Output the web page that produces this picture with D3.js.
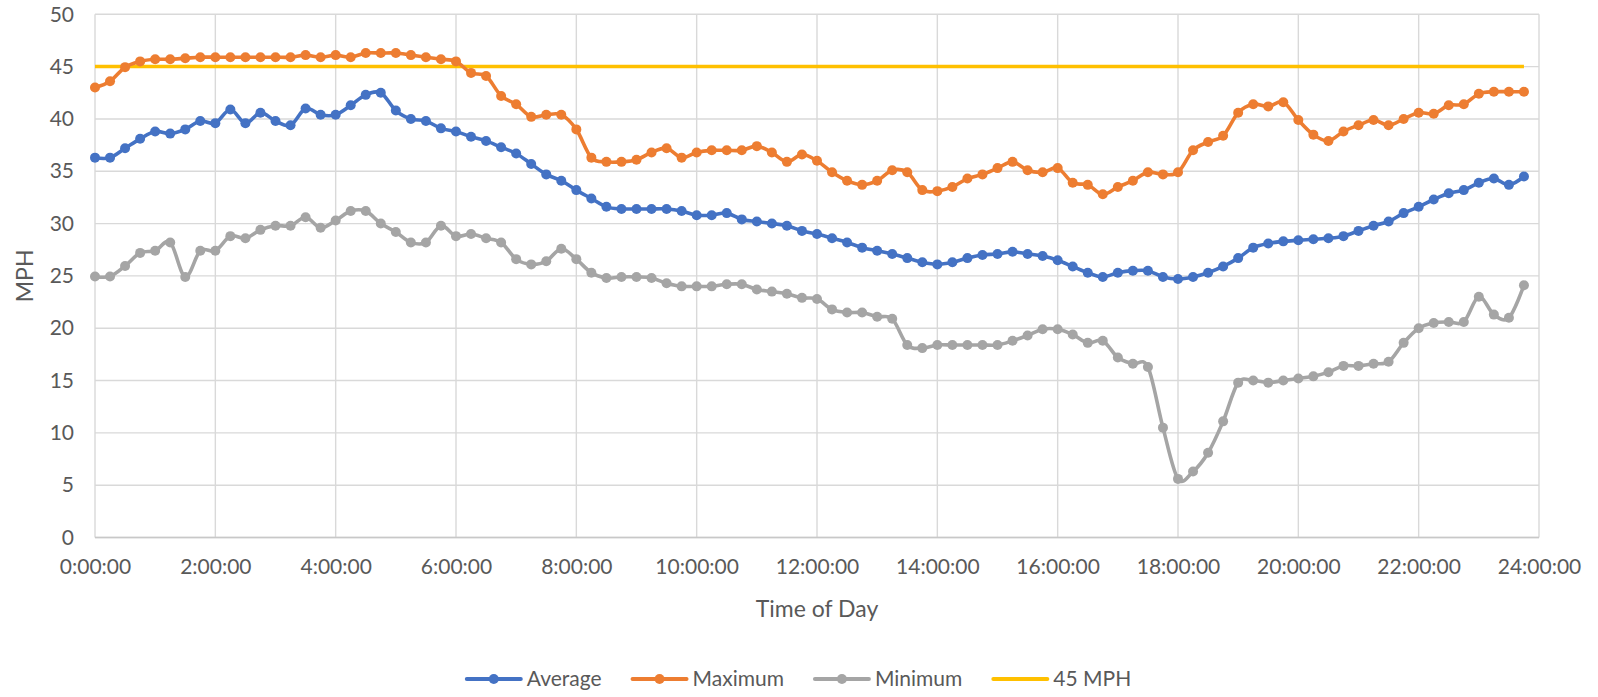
<!DOCTYPE html>
<html>
<head>
<meta charset="utf-8">
<script src="https://cdn.jsdelivr.net/npm/d3@7"></script>
<style>
  html, body { margin: 0; padding: 0; background: #ffffff; }
  svg { display: block; font-family: Lato, "Open Sans", sans-serif; }
  .tick text { fill: #595959; }
</style>
</head>
<body>
<svg id="chart" width="1598" height="697"></svg>
<script>
// Speeds by time of day, one reading every 15 minutes (96 slots, 0:00 to 23:45)
const slotMinutes = d3.range(96).map(i => i * 15);

const averageMph = [
  36.3, 36.3, 37.2, 38.1, 38.8, 38.6, 39.0, 39.8,
  39.6, 40.9, 39.6, 40.6, 39.8, 39.4, 41.0, 40.4,
  40.4, 41.3, 42.3, 42.5, 40.8, 40.0, 39.8, 39.1,
  38.8, 38.3, 37.9, 37.3, 36.7, 35.7, 34.7, 34.1,
  33.2, 32.4, 31.6, 31.4, 31.4, 31.4, 31.4, 31.2,
  30.8, 30.8, 31.0, 30.4, 30.2, 30.0, 29.8, 29.3,
  29.0, 28.6, 28.2, 27.7, 27.4, 27.1, 26.7, 26.3,
  26.1, 26.3, 26.7, 27.0, 27.1, 27.3, 27.1, 26.9,
  26.5, 25.9, 25.3, 24.9, 25.3, 25.5, 25.5, 24.9,
  24.7, 24.9, 25.3, 25.9, 26.7, 27.7, 28.1, 28.3,
  28.4, 28.5, 28.6, 28.8, 29.3, 29.8, 30.2, 31.0,
  31.6, 32.3, 32.9, 33.2, 33.9, 34.3, 33.7, 34.5
];

const maximumMph = [
  43.0, 43.6, 44.95, 45.5, 45.7, 45.7, 45.8, 45.9,
  45.9, 45.9, 45.9, 45.9, 45.9, 45.9, 46.1, 45.9,
  46.1, 45.9, 46.3, 46.3, 46.3, 46.1, 45.9, 45.7,
  45.5, 44.4, 44.1, 42.2, 41.4, 40.2, 40.4, 40.4,
  39.0, 36.3, 35.9, 35.9, 36.1, 36.8, 37.2, 36.3,
  36.8, 37.0, 37.0, 37.0, 37.4, 36.8, 35.9, 36.6,
  36.0, 34.9, 34.1, 33.7, 34.1, 35.1, 34.9, 33.2,
  33.1, 33.5, 34.3, 34.7, 35.3, 35.9, 35.1, 34.9,
  35.3, 33.9, 33.7, 32.8, 33.5, 34.1, 34.9, 34.7,
  34.9, 37.0, 37.8, 38.4, 40.6, 41.4, 41.2, 41.6,
  39.9, 38.5, 37.9, 38.8, 39.4, 39.9, 39.4, 40.0,
  40.6, 40.5, 41.3, 41.4, 42.4, 42.6, 42.6, 42.6
];

const minimumMph = [
  24.95, 24.95, 25.95, 27.2, 27.4, 28.2, 24.9, 27.4,
  27.4, 28.8, 28.6, 29.4, 29.8, 29.8, 30.6, 29.6,
  30.3, 31.2, 31.2, 30.0, 29.2, 28.2, 28.2, 29.8,
  28.8, 29.0, 28.6, 28.2, 26.6, 26.1, 26.4, 27.6,
  26.6, 25.3, 24.8, 24.9, 24.9, 24.8, 24.3, 24.0,
  24.0, 24.0, 24.2, 24.2, 23.7, 23.5, 23.3, 22.9,
  22.8, 21.8, 21.5, 21.5, 21.1, 20.9, 18.4, 18.1,
  18.4, 18.4, 18.4, 18.4, 18.4, 18.8, 19.3, 19.9,
  19.9, 19.4, 18.6, 18.8, 17.2, 16.6, 16.3, 10.5,
  5.6, 6.3, 8.1, 11.1, 14.8, 15.0, 14.8, 15.0,
  15.2, 15.4, 15.8, 16.4, 16.4, 16.6, 16.8, 18.6,
  20.0, 20.5, 20.6, 20.6, 23.0, 21.3, 21.0, 24.1
];

const speedLimitMph = 45;

const xTickMinutes = [0, 120, 240, 360, 480, 600, 720, 840, 960, 1080, 1200, 1320, 1440];
const xTickLabels = ["0:00:00", "2:00:00", "4:00:00", "6:00:00", "8:00:00", "10:00:00",
  "12:00:00", "14:00:00", "16:00:00", "18:00:00", "20:00:00", "22:00:00", "24:00:00"];
const yTicks = [0, 5, 10, 15, 20, 25, 30, 35, 40, 45, 50];

const seriesNames = ["Average", "Maximum", "Minimum", "45 MPH"];
const seriesColors = ["#4472C4", "#ED7D31", "#A5A5A5", "#FFC000"];

// ---- layout ----
const W = 1598, H = 697;
const plot = { left: 95, right: 1539, top: 14.3, bottom: 537.5 };
const textColor = "#595959";
const gridColor = "#D9D9D9";

const svg = d3.select("#chart");

const x = d3.scaleLinear().domain([0, 1440]).range([plot.left, plot.right]);
const y = d3.scaleLinear().domain([0, 50]).range([plot.bottom, plot.top]);

// gridlines
const grid = svg.append("g");
grid.selectAll("line.h").data(yTicks).join("line")
  .attr("x1", plot.left).attr("x2", plot.right)
  .attr("y1", d => y(d)).attr("y2", d => y(d))
  .attr("stroke", gridColor).attr("stroke-width", 1.4);
grid.selectAll("line.v").data(xTickMinutes).join("line")
  .attr("x1", d => x(d)).attr("x2", d => x(d))
  .attr("y1", plot.top).attr("y2", plot.bottom)
  .attr("stroke", gridColor).attr("stroke-width", 1.4);
// category axis baseline
svg.append("line")
  .attr("x1", plot.left).attr("x2", plot.right)
  .attr("y1", y(0)).attr("y2", y(0))
  .attr("stroke", "#C8C8C8").attr("stroke-width", 1.6);

// axes (labels only)
const yAxis = svg.append("g")
  .attr("transform", `translate(${plot.left},0)`)
  .call(d3.axisLeft(y).tickValues(yTicks).tickSize(0).tickPadding(21));
yAxis.select(".domain").remove();
yAxis.selectAll("text").attr("font-size", 21).attr("font-family", "Lato").attr("fill", textColor);

const xAxis = svg.append("g")
  .attr("transform", `translate(0,${plot.bottom})`)
  .call(d3.axisBottom(x).tickValues(xTickMinutes)
    .tickFormat((d, i) => xTickLabels[i]).tickSize(0).tickPadding(22));
xAxis.select(".domain").remove();
xAxis.selectAll("text").attr("font-size", 21).attr("font-family", "Lato").attr("fill", textColor);

// axis titles
svg.append("text")
  .attr("x", (plot.left + plot.right) / 2).attr("y", 617)
  .attr("text-anchor", "middle").attr("font-size", 23).attr("fill", textColor)
  .text("Time of Day");
svg.append("text")
  .attr("transform", `translate(33,${(plot.top + plot.bottom) / 2}) rotate(-90)`)
  .attr("text-anchor", "middle").attr("font-size", 23).attr("fill", textColor)
  .text("MPH");

// series
const line = d3.line()
  .x((d, i) => x(slotMinutes[i]))
  .y(d => y(d))
  .curve(d3.curveCatmullRom.alpha(0));

const limitSeries = slotMinutes.map(() => speedLimitMph);

svg.append("path").datum(limitSeries)
  .attr("d", d3.line().x((d, i) => x(slotMinutes[i])).y(d => y(d)))
  .attr("fill", "none").attr("stroke", seriesColors[3]).attr("stroke-width", 3.5);

const markedSeries = [
  { values: averageMph, color: seriesColors[0] },
  { values: maximumMph, color: seriesColors[1] },
  { values: minimumMph, color: seriesColors[2] }
];

markedSeries.forEach(s => {
  const g = svg.append("g");
  g.append("path").datum(s.values)
    .attr("d", line)
    .attr("fill", "none").attr("stroke", s.color)
    .attr("stroke-width", 3.6).attr("stroke-linejoin", "round").attr("stroke-linecap", "round");
  g.selectAll("circle").data(s.values).join("circle")
    .attr("cx", (d, i) => x(slotMinutes[i]))
    .attr("cy", d => y(d))
    .attr("r", 5)
    .attr("fill", s.color);
});

// legend
const legendY = 679;
const legend = svg.append("g");
const items = seriesNames.map((name, i) => {
  const g = legend.append("g");
  g.append("line").attr("x1", 0).attr("x2", 54).attr("y1", 0).attr("y2", 0)
    .attr("stroke", seriesColors[i]).attr("stroke-width", 4).attr("stroke-linecap", "round");
  if (i < 3) {
    g.append("circle").attr("cx", 27).attr("cy", 0).attr("r", 5).attr("fill", seriesColors[i]);
  }
  const t = g.append("text").attr("x", 60).attr("y", 0).attr("dy", "0.35em")
    .attr("font-size", 21).attr("fill", textColor).text(name);
  return { g, w: 60 + t.node().getComputedTextLength() };
});
const gap = 31;
const total = d3.sum(items, d => d.w) + gap * (items.length - 1);
let cursor = W / 2 - total / 2;
items.forEach(it => {
  it.g.attr("transform", `translate(${cursor},${legendY})`);
  cursor += it.w + gap;
});
</script>
</body>
</html>
